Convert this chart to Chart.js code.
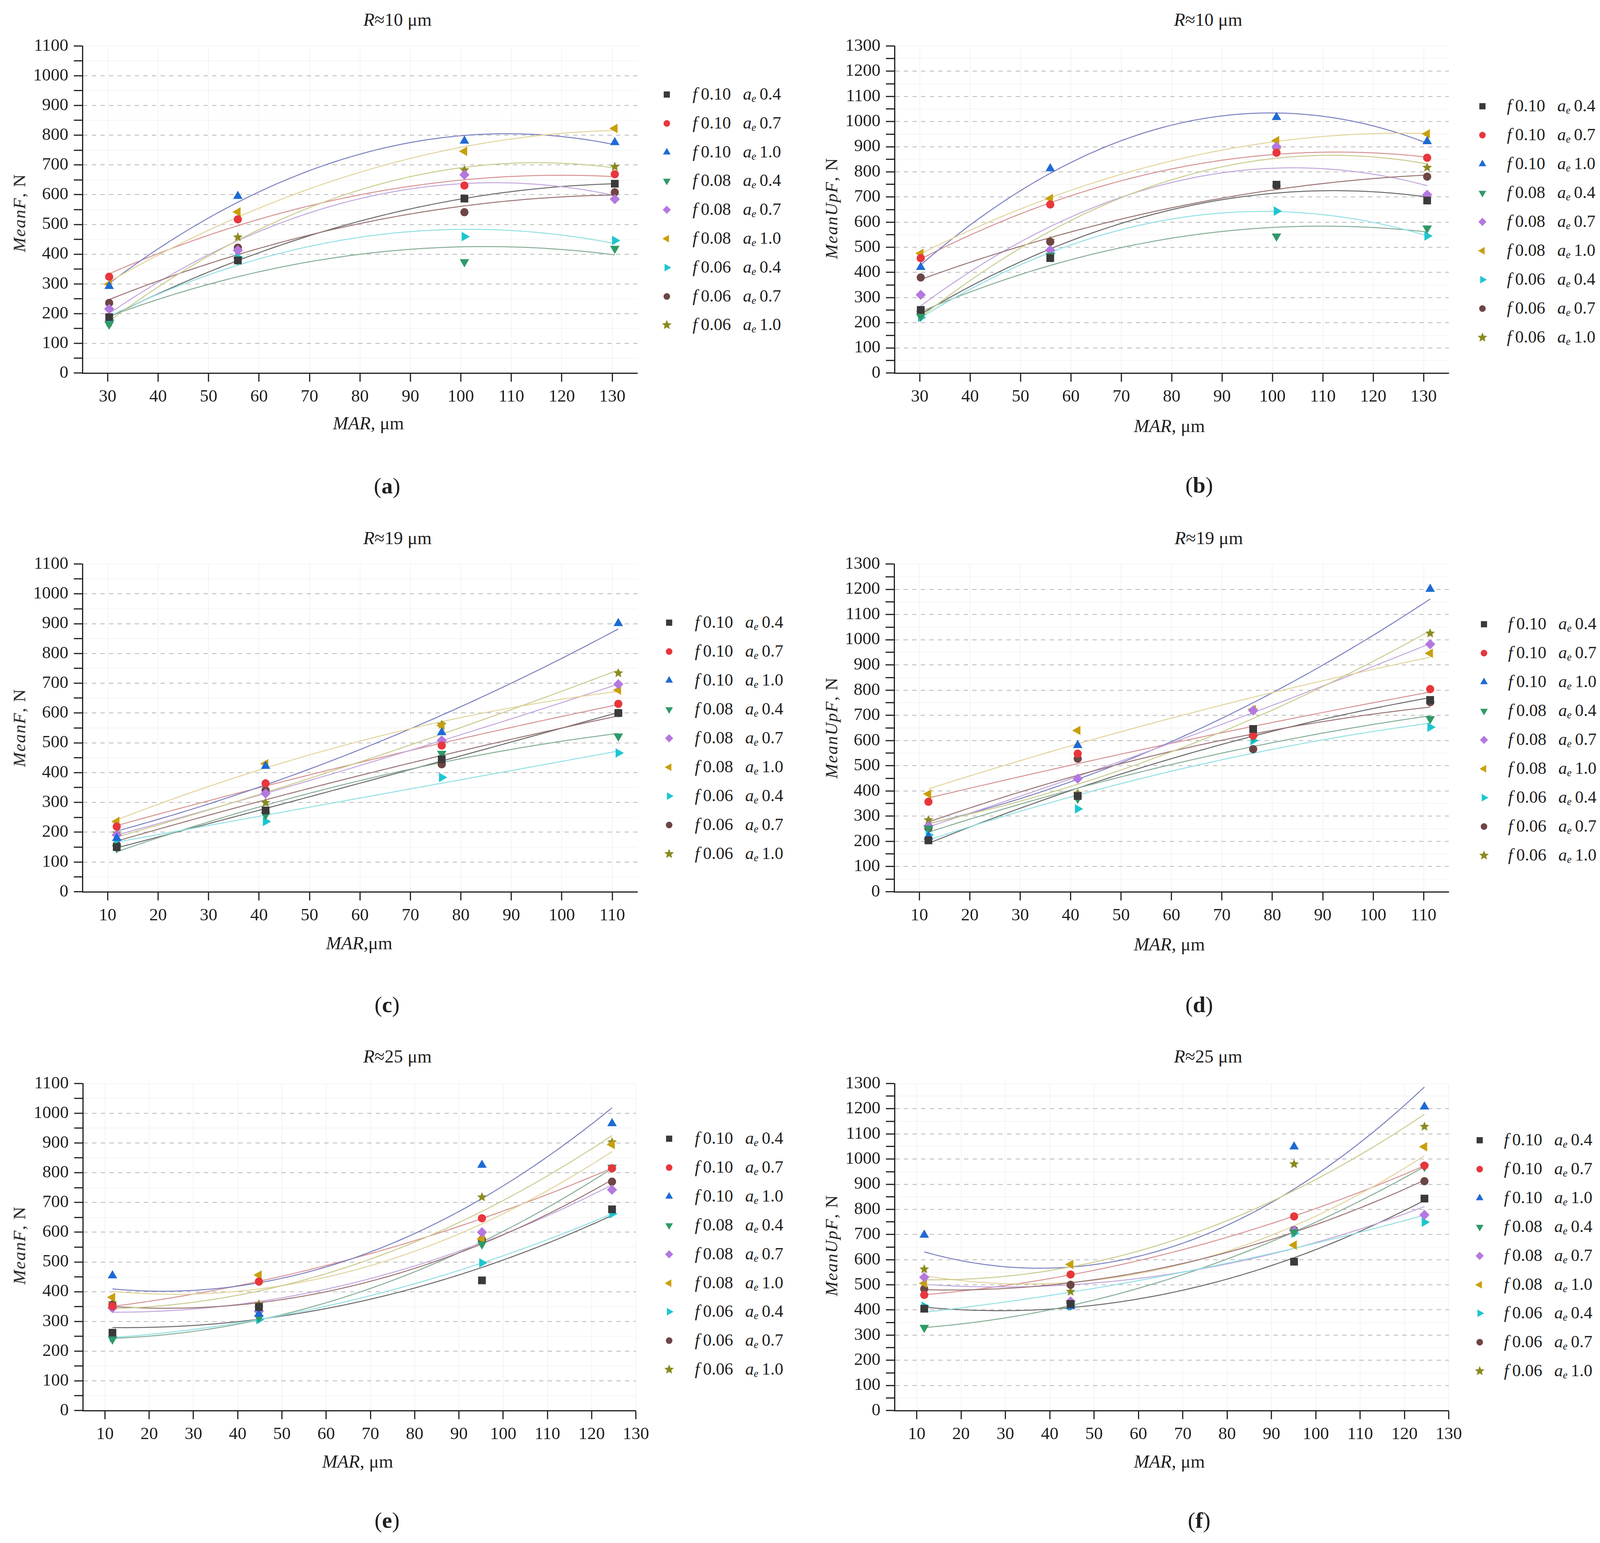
<!DOCTYPE html>
<html>
<head>
<meta charset="utf-8">
<script src="https://cdn.jsdelivr.net/npm/chart.js@4.4.1/dist/chart.umd.min.js"></script>
<style>
  html, body { margin: 0; padding: 0; overflow: hidden; }
  body { width: 100vw; height: 3950px; position: relative; background: #fff;
         font-family: 'Liberation Serif', 'DejaVu Serif', serif; color: #1e1e1e; }
  .t { position: absolute; white-space: nowrap; transform: translate(-50%, -50%); line-height: 1; }
  .title { font-size: 47px; }
  .xlab { font-size: 47px; }
  .ylab { font-size: 45px; letter-spacing: 2px; transform: translate(-50%, -50%) rotate(-90deg); }
  .cap { font-size: 58px; }
  .leg { position: absolute; white-space: nowrap; font-size: 44px; line-height: 1; transform: translateY(-50%); }
  .leg sub { font-size: 0.6em; vertical-align: -0.25em; }
  .mk { position: absolute; }
</style>
</head>
<body>
<script>
// ---- data ----
const seriesF  = ['0.10', '0.10', '0.10', '0.08', '0.08', '0.08', '0.06', '0.06', '0.06'];
const seriesAe = ['0.4', '0.7', '1.0', '0.4', '0.7', '1.0', '0.4', '0.7', '1.0'];

// (a) MeanF, R~10
const marA = [30.3, 55.8, 100.7, 130.5];
const a1 = [188, 379, 587, 637];
const a2 = [324, 517, 631, 669];
const a3 = [292, 595, 781, 776];
const a4 = [164, 380, 374, 419];
const a5 = [216, 413, 667, 585];
const a6 = [299, 542, 746, 823];
const a7 = [178, 390, 459, 446];
const a8 = [236, 422, 541, 608];
const a9 = [170, 457, 683, 694];

// (b) MeanUpF, R~10
const marB = [30.2, 55.9, 100.8, 130.7];
const b1 = [251, 457, 749, 686];
const b2 = [457, 670, 876, 856];
const b3 = [421, 813, 1017, 921];
const b4 = [225, 467, 544, 576];
const b5 = [311, 489, 900, 709];
const b6 = [476, 694, 924, 951];
const b7 = [221, 477, 644, 545];
const b8 = [380, 522, 745, 781];
const b9 = [240, 527, 888, 817];

// (c) MeanF, R~19
const marC = [11.8, 41.3, 76.2, 111.2];
const c1 = [150, 273, 445, 600];
const c2 = [219, 364, 491, 631];
const c3 = [180, 422, 535, 901];
const c4 = [147, 258, 464, 522];
const c5 = [191, 330, 508, 697];
const c6 = [236, 430, 558, 677];
const c7 = [175, 236, 384, 466];
const c8 = [158, 341, 428, 600];
const c9 = [197, 299, 561, 734];

// (d) MeanUpF, R~19
const marD = [11.8, 41.4, 76.2, 111.3];
const d1 = [204, 380, 646, 761];
const d2 = [357, 548, 620, 804];
const d3 = [219, 581, 627, 1201];
const d4 = [252, 370, 614, 686];
const d5 = [261, 449, 719, 982];
const d6 = [388, 640, 723, 946];
const d7 = [226, 329, 600, 653];
const d8 = [252, 528, 566, 752];
const d9 = [285, 390, 721, 1025];

// (e) MeanF, R~25
const marE = [11.7, 44.8, 95.2, 124.6];
const e1 = [262, 348, 438, 677];
const e2 = [351, 434, 647, 815];
const e3 = [454, 325, 826, 966];
const e4 = [240, 312, 560, 818];
const e5 = [345, 334, 600, 743];
const e6 = [381, 456, 578, 895];
const e7 = [246, 306, 497, 662];
const e8 = [356, 350, 575, 770];
const e9 = [362, 358, 718, 903];

// (f) MeanUpF, R~25
const marF = [11.7, 44.7, 95.1, 124.5];
const f1 = [405, 424, 592, 843];
const f2 = [460, 541, 772, 974];
const f3 = [698, 414, 1049, 1208];
const f4 = [330, 418, 710, 970];
const f5 = [530, 434, 716, 778];
const f6 = [506, 581, 658, 1049];
const f7 = [415, 415, 705, 749];
const f8 = [484, 500, 718, 912];
const f9 = [562, 473, 980, 1129];

// tick labels
const xTicks30 = [30, 40, 50, 60, 70, 80, 90, 100, 110, 120, 130];
const xTicks10 = [10, 20, 30, 40, 50, 60, 70, 80, 90, 100, 110];
const xTicks10to130 = [10, 20, 30, 40, 50, 60, 70, 80, 90, 100, 110, 120, 130];
const yTicks1100 = [0, 50, 100, 150, 200, 250, 300, 350, 400, 450, 500, 550, 600, 650, 700, 750, 800, 850, 900, 950, 1000, 1050, 1100];
const yTicks1300 = [0, 50, 100, 150, 200, 250, 300, 350, 400, 450, 500, 550, 600, 650, 700, 750, 800, 850, 900, 950, 1000, 1050, 1100, 1150, 1200, 1250, 1300];

// ---- styles ----
const markColors = ['#3a3a3a', '#e8363c', '#1e6ad4', '#2f9a68', '#b478e0', '#c8a00c', '#1cc6cf', '#6d4545', '#8a8a20'];
const fitColors  = ['#6a6a6a', '#d79292', '#7a80c0', '#86ad95', '#c3a7dd', '#e2d49c', '#92e0e4', '#9a7474', '#cbcb8e'];

// the figure is laid out on a 4299 px wide sheet; squeeze it if the window is narrower
const SX = Math.min(1, (window.innerWidth || 4299) / 4299);
const X = v => v * SX;

function starImage(color, r) {
  const c = document.createElement('canvas');
  c.width = c.height = 2 * r + 2;
  const g = c.getContext('2d');
  g.beginPath();
  for (let i = 0; i < 10; i++) {
    const ang = -Math.PI / 2 + i * Math.PI / 5;
    const rr = i % 2 ? r * 0.45 : r;
    g.lineTo(r + 1 + rr * Math.cos(ang), r + 1 + rr * Math.sin(ang));
  }
  g.closePath();
  g.fillStyle = color;
  g.fill();
  return c;
}

const markStyles = [
  { pointStyle: 'rect', radius: 14, rotation: 0 },
  { pointStyle: 'circle', radius: 10.5, rotation: 0 },
  { pointStyle: 'triangle', radius: 14, rotation: 0 },
  { pointStyle: 'triangle', radius: 14, rotation: 180 },
  { pointStyle: 'rectRot', radius: 13, rotation: 0 },
  { pointStyle: 'triangle', radius: 14, rotation: 270 },
  { pointStyle: 'triangle', radius: 14, rotation: 90 },
  { pointStyle: 'circle', radius: 10.5, rotation: 0 },
  { pointStyle: starImage(markColors[8], 13), radius: 13, rotation: 0 }
];

// least squares quadratic through a series (the trend curves of the figure)
function quadFit(pts) {
  let s = [0, 0, 0, 0, 0], t = [0, 0, 0];
  pts.forEach(p => {
    let xp = 1;
    for (let k = 0; k < 5; k++) { s[k] += xp; if (k < 3) t[k] += p.y * xp; xp *= p.x; }
  });
  const m = [[s[0], s[1], s[2], t[0]], [s[1], s[2], s[3], t[1]], [s[2], s[3], s[4], t[2]]];
  for (let i = 0; i < 3; i++) {
    for (let j = i + 1; j < 3; j++) {
      const f = m[j][i] / m[i][i];
      for (let k = i; k < 4; k++) m[j][k] -= f * m[i][k];
    }
  }
  const c = [0, 0, 0];
  for (let i = 2; i >= 0; i--) {
    let v = m[i][3];
    for (let k = i + 1; k < 3; k++) v -= m[i][k] * c[k];
    c[i] = v / m[i][i];
  }
  return c;
}

const fitCurves = {
  id: 'fitCurves',
  beforeDatasetsDraw(chart) {
    const { ctx, chartArea, scales: { x, y } } = chart;
    ctx.save();
    ctx.beginPath();
    ctx.rect(chartArea.left, chartArea.top, chartArea.width, chartArea.height);
    ctx.clip();
    chart.data.datasets.forEach(ds => {
      const pts = ds.data;
      const c = quadFit(pts);
      const x0 = pts[0].x, x1 = pts[pts.length - 1].x;
      ctx.beginPath();
      for (let i = 0; i <= 100; i++) {
        const xv = x0 + (x1 - x0) * i / 100;
        const px = x.getPixelForValue(xv);
        const py = y.getPixelForValue(c[0] + c[1] * xv + c[2] * xv * xv);
        if (i === 0) ctx.moveTo(px, py); else ctx.lineTo(px, py);
      }
      ctx.strokeStyle = ds.fitColor;
      ctx.lineWidth = 2.5;
      ctx.stroke();
    });
    ctx.restore();
  }
};

const panels = [
  { letter: 'a', rLabel: '10', yName: 'MeanF', xSep: ', ', mar: marA, series: [a1, a2, a3, a4, a5, a6, a7, a8, a9],
    xMin: 25, xMax: 135, xTicks: xTicks30, yMax: 1100, yTicks: yTicks1100,
    box: { l: 221, r: 1712, t: 117, b: 955 }, title: [1068, 50], xlab: [990, 1083], ylab: [52, 545], cap: [1040, 1244],
    leg: { mx: 1792, tx: 1861, y0: 242, dy: 73.8 } },
  { letter: 'b', rLabel: '10', yName: 'MeanUpF', xSep: ', ', mar: marB, series: [b1, b2, b3, b4, b5, b6, b7, b8, b9],
    xMin: 25, xMax: 135, xTicks: xTicks30, yMax: 1300, yTicks: yTicks1300,
    box: { l: 2403, r: 3892, t: 117, b: 955 }, title: [3246, 50], xlab: [3142, 1090], ylab: [2235, 533], cap: [3222, 1242],
    leg: { mx: 3983, tx: 4049, y0: 272, dy: 74 } },
  { letter: 'c', rLabel: '19', yName: 'MeanF', xSep: ',', mar: marC, series: [c1, c2, c3, c4, c5, c6, c7, c8, c9],
    xMin: 5, xMax: 115, xTicks: xTicks10, yMax: 1100, yTicks: yTicks1100,
    box: { l: 221, r: 1712, t: 1443, b: 2283 }, title: [1068, 1377], xlab: [965, 2414], ylab: [52, 1863], cap: [1040, 2572],
    leg: { mx: 1798, tx: 1867, y0: 1594, dy: 74 } },
  { letter: 'd', rLabel: '19', yName: 'MeanUpF', xSep: ', ', mar: marD, series: [d1, d2, d3, d4, d5, d6, d7, d8, d9],
    xMin: 5, xMax: 115, xTicks: xTicks10, yMax: 1300, yTicks: yTicks1300,
    box: { l: 2402, r: 3892, t: 1443, b: 2283 }, title: [3248, 1377], xlab: [3142, 2417], ylab: [2235, 1863], cap: [3222, 2572],
    leg: { mx: 3987, tx: 4052, y0: 1598, dy: 74 } },
  { letter: 'e', rLabel: '25', yName: 'MeanF', xSep: ', ', mar: marE, series: [e1, e2, e3, e4, e5, e6, e7, e8, e9],
    xMin: 5, xMax: 130, xTicks: xTicks10to130, yMax: 1100, yTicks: yTicks1100,
    box: { l: 223, r: 1709, t: 2773, b: 3611 }, title: [1068, 2704], xlab: [961, 3741], ylab: [52, 3188], cap: [1040, 3892],
    leg: { mx: 1798, tx: 1867, y0: 2915, dy: 73.9 } },
  { letter: 'f', rLabel: '25', yName: 'MeanUpF', xSep: ', ', mar: marF, series: [f1, f2, f3, f4, f5, f6, f7, f8, f9],
    xMin: 5, xMax: 130, xTicks: xTicks10to130, yMax: 1300, yTicks: yTicks1300,
    box: { l: 2404, r: 3893, t: 2773, b: 3611 }, title: [3246, 2704], xlab: [3142, 3741], ylab: [2235, 3188], cap: [3222, 3892],
    leg: { mx: 3976, tx: 4041, y0: 2919, dy: 73.9 } }
];

function addText(cls, html, pos) {
  const d = document.createElement('div');
  d.className = 't ' + cls;
  d.innerHTML = html;
  d.style.left = X(pos[0]) + 'px';
  d.style.top = pos[1] + 'px';
  document.body.appendChild(d);
}

function legendMarker(i, cx, cy) {
  const size = 36;
  const c = document.createElement('canvas');
  c.width = c.height = size;
  c.className = 'mk';
  c.style.left = (cx - size / 2) + 'px';
  c.style.top = (cy - size / 2) + 'px';
  const g = c.getContext('2d');
  g.fillStyle = markColors[i];
  const st = markStyles[i];
  if (Chart.helpers && Chart.helpers.drawPoint) {
    Chart.helpers.drawPoint(g, { pointStyle: st.pointStyle, radius: st.radius * 0.8, rotation: st.rotation, borderWidth: 0 }, size / 2, size / 2);
  } else {
    g.beginPath(); g.arc(size / 2, size / 2, 8, 0, Math.PI * 2); g.fill();
  }
  document.body.appendChild(c);
}

const W_Y = 150, H_X = 110, PAD_T = 40, PAD_R = 50;

function makePanel(p) {
  const left = X(p.box.l), right = X(p.box.r);
  const w = Math.round(right - left + W_Y + PAD_R);
  const h = p.box.b - p.box.t + PAD_T + H_X;
  const canvas = document.createElement('canvas');
  canvas.width = w;
  canvas.height = h;
  canvas.style.cssText = `position:absolute;left:${left - W_Y}px;top:${p.box.t - PAD_T}px;width:${w}px;height:${h}px`;
  document.body.appendChild(canvas);

  const datasets = p.series.map((vals, i) => ({
    label: 'f ' + seriesF[i] + ' ae ' + seriesAe[i],
    data: vals.map((v, k) => ({ x: p.mar[k], y: v })),
    showLine: false,
    pointStyle: markStyles[i].pointStyle,
    pointRadius: markStyles[i].radius,
    pointRotation: markStyles[i].rotation,
    pointBackgroundColor: markColors[i],
    pointBorderWidth: 0,
    fitColor: fitColors[i]
  }));

  const tickFont = { family: "'Liberation Serif', 'DejaVu Serif', serif", size: 45 };
  const isMajor = (v) => v % 100 === 0 && v !== 0 && v !== p.yMax;

  new Chart(canvas, {
    type: 'scatter',
    data: { datasets },
    plugins: [fitCurves],
    options: {
      responsive: false,
      animation: false,
      layout: { padding: { top: PAD_T, right: PAD_R, left: 0, bottom: 0 } },
      plugins: { legend: { display: false }, tooltip: { enabled: false } },
      scales: {
        x: {
          type: 'linear',
          min: p.xMin,
          max: p.xMax,
          afterBuildTicks: s => { s.ticks = p.xTicks.map(v => ({ value: v })); },
          afterFit: s => { s.height = H_X; },
          ticks: { font: tickFont, color: '#1e1e1e', padding: 12, maxRotation: 0, autoSkip: false },
          grid: { color: 'rgba(0,0,0,0.06)', lineWidth: 1.5, tickLength: 22, tickColor: '#1e1e1e', tickWidth: 3 },
          border: { display: true, color: '#1e1e1e', width: 3 }
        },
        y: {
          type: 'linear',
          min: 0,
          max: p.yMax,
          afterBuildTicks: s => { s.ticks = p.yTicks.map(v => ({ value: v })); },
          afterFit: s => { s.width = W_Y; },
          ticks: {
            font: tickFont, color: '#1e1e1e', padding: 14, autoSkip: false,
            callback: v => (v % 100 === 0 ? String(v) : '')
          },
          grid: {
            color: c => (isMajor(c.tick ? c.tick.value : 0) ? '#b8b8b8' : 'rgba(0,0,0,0.05)'),
            lineWidth: c => (isMajor(c.tick ? c.tick.value : 0) ? 2 : 1.5),
            tickLength: 22,
            tickColor: '#1e1e1e',
            tickWidth: 3
          },
          border: {
            display: true, color: '#1e1e1e', width: 3,
            dash: c => (isMajor(c.tick ? c.tick.value : 0) ? [11, 11] : [])
          }
        }
      }
    }
  });

  addText('title', '<i>R</i>≈' + p.rLabel + ' μm', p.title);
  addText('xlab', '<i>MAR</i>' + p.xSep + 'μm', p.xlab);
  addText('ylab', '<i>' + p.yName + '</i>, N', p.ylab);
  addText('cap', '(<b>' + p.letter + '</b>)', p.cap);

  seriesF.forEach((fv, i) => {
    const cy = p.leg.y0 + i * p.leg.dy;
    legendMarker(i, X(p.leg.mx), cy);
    const d = document.createElement('div');
    d.className = 'leg';
    d.innerHTML = '<i>f</i>&thinsp;' + fv + '&ensp;&thinsp;<i>a</i><sub><i>e</i></sub>&thinsp;' + seriesAe[i];
    d.style.left = X(p.leg.tx) + 'px';
    d.style.top = cy + 'px';
    document.body.appendChild(d);
  });
}

panels.forEach(makePanel);
</script>
</body>
</html>
